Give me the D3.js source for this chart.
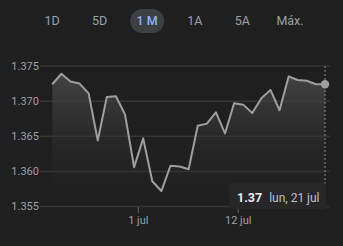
<!DOCTYPE html>
<html><head><meta charset="utf-8">
<script src="https://cdn.jsdelivr.net/npm/d3@7"></script>
<style>
html,body{margin:0;padding:0;background:#1f1f1f;}
svg{display:block;font-family:Roboto, Arial, sans-serif;}
</style></head>
<body>
<svg id="c" width="343" height="246"></svg>
<script>
const ranges = ["1D","5D","1 M","1A","5A","Máx."];
const activeRange = "1 M";
const dates = ["2025-06-21","2025-06-22","2025-06-23","2025-06-24","2025-06-25","2025-06-26","2025-06-27","2025-06-28","2025-06-29","2025-06-30",
  "2025-07-01","2025-07-02","2025-07-03","2025-07-04","2025-07-05","2025-07-06","2025-07-07","2025-07-08","2025-07-09","2025-07-10",
  "2025-07-11","2025-07-12","2025-07-13","2025-07-14","2025-07-15","2025-07-16","2025-07-17","2025-07-18","2025-07-19","2025-07-20","2025-07-21"];
const values = [1.3724,1.3739,1.3728,1.3725,1.3711,1.3644,1.3706,1.3707,1.3681,1.3606,
  1.3647,1.3586,1.3572,1.3608,1.3607,1.3603,1.3665,1.3668,1.3684,1.3654,
  1.3697,1.3695,1.3683,1.3704,1.3716,1.3687,1.3735,1.3730,1.3729,1.3724,1.3724];
const yTicks = [1.355,1.360,1.365,1.370,1.375];
const xTickDates = ["2025-07-01","2025-07-12"];
const xTickLabels = ["1 jul","12 jul"];
const tipValue = "1.37";
const tipDate = "lun, 21 jul";

const parse = s => { const d = d3.timeParse("%Y-%m-%d")(s); d.setHours(13); return d; };
const data = dates.map((d,i)=>({date:parse(d), value:values[i]}));

const svg = d3.select("#c");

// range buttons
const bx = d3.scalePoint().domain(ranges).range([52,290]);
const btn = svg.append("g");
btn.append("rect").attr("x", bx(activeRange)-17).attr("y",9).attr("width",34).attr("height",24)
  .attr("rx",12).attr("fill","#3c4043");
btn.selectAll("text").data(ranges).join("text")
  .attr("x", d=>bx(d)).attr("y",21).attr("dy","0.35em").attr("text-anchor","middle")
  .attr("font-size",12.5).attr("font-weight", d=>d===activeRange?500:400)
  .attr("fill", d=>d===activeRange?"#8ab4f8":"#9aa0a6").text(d=>d);

const x = d3.scaleTime().domain(d3.extent(data,d=>d.date)).range([52.3,325]);
const y = d3.scaleLinear().domain([1.355,1.375]).range([206.5,66]);

// grid
svg.append("g").selectAll("line").data(yTicks).join("line")
  .attr("x1",40).attr("x2",330).attr("y1",d=>y(d)).attr("y2",d=>y(d))
  .attr("stroke","#353535").attr("stroke-width",1.5);
svg.append("g").selectAll("text").data(yTicks).join("text")
  .attr("x",39).attr("y",d=>y(d)).attr("dy","0.35em").attr("text-anchor","end")
  .attr("font-size",11).attr("fill","#9aa0a6").text(d=>d3.format(".3f")(d));

// area gradient
const defs = svg.append("defs");
const g = defs.append("linearGradient").attr("id","ag")
  .attr("gradientUnits","userSpaceOnUse").attr("x1",0).attr("x2",0).attr("y1",70).attr("y2",200);
g.append("stop").attr("offset",0).attr("stop-color","#4a4a4a").attr("stop-opacity",0.9);
g.append("stop").attr("offset",1).attr("stop-color","#1f1f1f").attr("stop-opacity",0.1);

svg.append("path").datum(data)
  .attr("d", d3.area().x(d=>x(d.date)).y0(200).y1(d=>y(d.value)))
  .attr("fill","url(#ag)");

// dashed vertical
const last = data[data.length-1];
svg.append("line").attr("x1",x(last.date)).attr("x2",x(last.date)).attr("y1",66).attr("y2",200)
  .attr("stroke","#8a8a8a").attr("stroke-width",1).attr("stroke-dasharray","2,2");

svg.append("path").datum(data)
  .attr("d", d3.line().x(d=>x(d.date)).y(d=>y(d.value)))
  .attr("fill","none").attr("stroke","#9e9e9e").attr("stroke-width",2).attr("stroke-linejoin","round");

svg.append("circle").attr("cx",x(last.date)).attr("cy",y(last.value)).attr("r",4.2).attr("fill","#9e9e9e");

// x ticks
const xt = xTickDates.map(s=>d3.timeParse("%Y-%m-%d")(s));
const xg = svg.append("g");
xg.selectAll("line").data(xt).join("line")
  .attr("x1",d=>x(d)).attr("x2",d=>x(d)).attr("y1",207).attr("y2",213)
  .attr("stroke","#5f6368").attr("stroke-width",1);
xg.selectAll("text").data(xt).join("text")
  .attr("x",d=>x(d)).attr("y",220).attr("dy","0.35em").attr("text-anchor","middle")
  .attr("font-size",11).attr("fill","#9aa0a6").text((d,i)=>xTickLabels[i]);

// tooltip
const tip = svg.append("g");
tip.append("rect").attr("x",229).attr("y",183).attr("width",97).attr("height",26).attr("rx",2)
  .attr("fill","#262626");
const tt = tip.append("text").attr("x",237).attr("y",196.5).attr("dy","0.35em");
tt.append("tspan").attr("font-weight",700).attr("font-size",12.5).attr("fill","#e8eaed").text(tipValue);
tt.append("tspan").attr("dx",7).attr("fill","#bdc1c6").attr("font-size",12).text(tipDate);
</script>
</body></html>
